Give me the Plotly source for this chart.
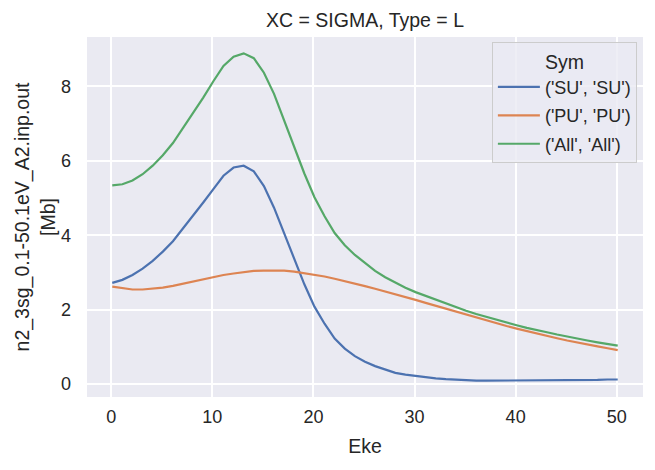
import plotly.graph_objects as go

eke = [round(0.1 + i, 1) for i in range(51)]

su_su = [2.72, 2.80, 2.93, 3.10, 3.31, 3.56, 3.84, 4.18, 4.52, 4.88,
         5.24, 5.60, 5.82, 5.87, 5.72, 5.32, 4.74, 4.05, 3.38, 2.68,
         2.08, 1.62, 1.22, 0.95, 0.75, 0.60, 0.48, 0.38, 0.30, 0.25,
         0.21, 0.17, 0.15, 0.13, 0.11, 0.10, 0.09, 0.09, 0.09, 0.09,
         0.09, 0.09, 0.10, 0.10, 0.10, 0.10, 0.11, 0.11, 0.11, 0.12, 0.12]

pu_pu = [2.62, 2.57, 2.54, 2.54, 2.56, 2.59, 2.64, 2.70, 2.76, 2.82,
         2.88, 2.93, 2.97, 3.01, 3.04, 3.05, 3.06, 3.05, 3.02, 2.98,
         2.94, 2.89, 2.83, 2.77, 2.70, 2.63, 2.56, 2.49, 2.42, 2.34,
         2.26, 2.18, 2.10, 2.02, 1.94, 1.87, 1.79, 1.71, 1.64, 1.56,
         1.49, 1.42, 1.36, 1.29, 1.23, 1.17, 1.11, 1.06, 1.01, 0.96, 0.91]

all_all = [5.34, 5.37, 5.47, 5.64, 5.87, 6.15, 6.48, 6.88, 7.28, 7.70,
           8.14, 8.55, 8.80, 8.89, 8.76, 8.37, 7.80, 7.10, 6.40, 5.66,
           5.02, 4.51, 4.06, 3.73, 3.47, 3.25, 3.04, 2.87, 2.72, 2.59,
           2.47, 2.37, 2.25, 2.15, 2.05, 1.97, 1.88, 1.80, 1.73, 1.65,
           1.58, 1.51, 1.46, 1.39, 1.33, 1.27, 1.22, 1.17, 1.12, 1.08, 1.03]

series_names = ["('SU', 'SU')", "('PU', 'PU')", "('All', 'All')"]
series_values = [su_su, pu_pu, all_all]
colors = ["#4C72B0", "#DD8452", "#55A868"]

x_ticks = [0, 10, 20, 30, 40, 50]
y_ticks = [0, 2, 4, 6, 8]

FONT = "Liberation Sans, Arial, sans-serif"
TXT = "#262626"
TICK_SIZE = 18
LABEL_SIZE = 19.5

fig = go.Figure()
for name, vals, col in zip(series_names, series_values, colors):
    fig.add_trace(go.Scatter(x=eke, y=vals, mode="lines", name=name,
                             legendgroup=name,
                             line=dict(color=col, width=2.2)))

fig.update_layout(
    width=655, height=470,
    margin=dict(l=87, r=12, t=37, b=73),
    paper_bgcolor="white",
    plot_bgcolor="#EAEAF2",
    font=dict(family=FONT, size=TICK_SIZE, color=TXT),
    title=dict(text="XC = SIGMA, Type = L", x=(87 + 643) / 2 / 655,
               xanchor="center", y=1 - 20 / 470, yanchor="middle",
               font=dict(size=LABEL_SIZE, color=TXT)),
    showlegend=True,
    legend=dict(
        title=dict(text="Sym", side="top center", font=dict(size=LABEL_SIZE)),
        x=0.989, y=0.985, xanchor="right", yanchor="top",
        bgcolor="rgba(234,234,242,0.8)", bordercolor="#CCCCCC", borderwidth=1,
        font=dict(size=TICK_SIZE, color=TXT),
        traceorder="grouped", tracegroupgap=2, itemwidth=42,
    ),
)
fig.update_xaxes(
    range=[-2.4, 52.6], tickvals=x_ticks, ticktext=[str(v) for v in x_ticks],
    showgrid=True, gridcolor="white", gridwidth=1.5, zeroline=False,
    showline=False, ticks="", ticklabelstandoff=7,
    title=dict(text="Eke", font=dict(size=LABEL_SIZE), standoff=13),
    tickfont=dict(size=TICK_SIZE, color=TXT),
)
fig.update_yaxes(
    range=[-0.35, 9.33], tickvals=y_ticks, ticktext=[str(v) for v in y_ticks],
    showgrid=True, gridcolor="white", gridwidth=1.5, zeroline=False,
    showline=False, ticks="", ticklabelstandoff=15,
    title=dict(text="n2_3sg_0.1-50.1eV_A2.inp.out<br>[Mb]", font=dict(size=LABEL_SIZE), standoff=0),
    tickfont=dict(size=TICK_SIZE, color=TXT),
)

fig.write_html("out.html")
